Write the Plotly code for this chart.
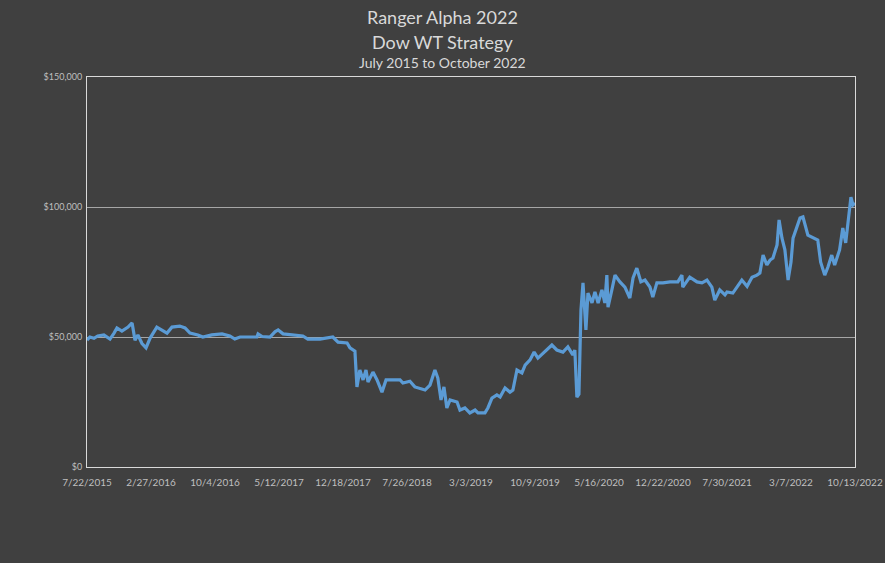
import plotly.graph_objects as go

# Data
dates = [
    "2015-07-22", "2015-08-01", "2015-08-15", "2015-08-28", "2015-09-18", "2015-10-09",
    "2015-10-23", "2015-11-02", "2015-11-19", "2015-12-10", "2015-12-24", "2016-01-03",
    "2016-01-13", "2016-01-27", "2016-02-10", "2016-02-24", "2016-03-18", "2016-04-04",
    "2016-04-22", "2016-05-09", "2016-06-05", "2016-06-23", "2016-07-10", "2016-08-06",
    "2016-08-23", "2016-09-23", "2016-10-28", "2016-11-24", "2016-12-11", "2016-12-29",
    "2017-02-25", "2017-03-01", "2017-03-15", "2017-04-11", "2017-04-28", "2017-05-09",
    "2017-05-26", "2017-08-02", "2017-08-19", "2017-09-30", "2017-11-13", "2017-12-01",
    "2018-01-01", "2018-01-11", "2018-01-28", "2018-02-04", "2018-02-14", "2018-02-25",
    "2018-03-07", "2018-03-14", "2018-03-31", "2018-04-14", "2018-05-01", "2018-05-15",
    "2018-07-02", "2018-07-12", "2018-08-05", "2018-08-22", "2018-09-26", "2018-10-13",
    "2018-10-30", "2018-11-09", "2018-11-20", "2018-11-30", "2018-12-10", "2018-12-21",
    "2019-01-14", "2019-01-24", "2019-02-10", "2019-02-27", "2019-03-17", "2019-03-27",
    "2019-04-20", "2019-04-30", "2019-05-14", "2019-05-31", "2019-06-11", "2019-06-28",
    "2019-07-15", "2019-07-25", "2019-08-08", "2019-08-25", "2019-09-05", "2019-09-22",
    "2019-10-06", "2019-10-19", "2019-11-12", "2019-12-06", "2019-12-23", "2020-01-13",
    "2020-01-30", "2020-02-16", "2020-02-23", "2020-03-01", "2020-03-08", "2020-03-15",
    "2020-03-22", "2020-04-01", "2020-04-08", "2020-04-22", "2020-05-02", "2020-05-13",
    "2020-05-26", "2020-06-05", "2020-06-12", "2020-06-16", "2020-06-29", "2020-07-10",
    "2020-07-27", "2020-08-13", "2020-08-30", "2020-09-10", "2020-09-23", "2020-10-07",
    "2020-10-21", "2020-11-07", "2020-11-17", "2020-12-01", "2020-12-22", "2021-01-15",
    "2021-02-11", "2021-02-25", "2021-02-28", "2021-03-24", "2021-04-18", "2021-05-05",
    "2021-05-22", "2021-06-08", "2021-06-18", "2021-07-05", "2021-07-23", "2021-07-30",
    "2021-08-19", "2021-09-19", "2021-10-07", "2021-10-24", "2021-11-10", "2021-11-20",
    "2021-12-01", "2021-12-14", "2021-12-25", "2022-01-04", "2022-01-18", "2022-01-25",
    "2022-02-04", "2022-02-14", "2022-02-25", "2022-03-07", "2022-03-14", "2022-03-27",
    "2022-04-07", "2022-04-17", "2022-04-27", "2022-05-04", "2022-06-07", "2022-06-17",
    "2022-07-01", "2022-07-12", "2022-07-25", "2022-08-04", "2022-08-21", "2022-09-01",
    "2022-09-11", "2022-09-18", "2022-09-29", "2022-10-06", "2022-10-13",
]
values = [
    48800, 50000, 49500, 50400, 50800, 49200,
    51500, 53500, 52300, 53800, 55400, 48800,
    50800, 47500, 45800, 49600, 53800, 52700,
    51500, 53800, 54200, 53500, 51500, 50800,
    50000, 50800, 51200, 50400, 49200, 50000,
    50000, 51200, 50200, 50000, 52000, 52700,
    51200, 50400, 49200, 49200, 50000, 48000,
    47700, 45800, 44600, 30800, 37300, 33500,
    37300, 32700, 36500, 33500, 28800, 33500,
    33500, 32300, 33000, 30800, 29600, 31500,
    37300, 34200, 25800, 30800, 22700, 25800,
    25000, 21900, 22700, 20800, 21900, 20800,
    20800, 22700, 26500, 27700, 26900, 30400,
    28800, 29600, 37300, 36200, 39200, 41200,
    44200, 41900, 44200, 46900, 45000, 44200,
    46200, 43100, 45000, 26900, 28000, 60400,
    70800, 52700, 66900, 63100, 67300, 63100,
    68100, 63100, 73800, 61500, 68000, 73800,
    71200, 69200, 65000, 72700, 76500, 71200,
    71900, 69200, 65400, 70800, 70800, 71200,
    71200, 73800, 69200, 73000, 71200, 70800,
    71900, 69200, 64200, 68100, 66200, 67300,
    66900, 71900, 69500, 73000, 73800, 74600,
    81500, 77700, 79600, 80400, 85400, 95000,
    88000, 83500, 71900, 78800, 88000, 92300,
    95800, 96200, 92300, 89200, 87300, 78800,
    73800, 76900, 81500, 77700, 83500, 91900,
    86200, 93800, 103800, 100800, 101500,
]

x_tick_dates = [
    "2015-07-22", "2016-02-27", "2016-10-04", "2017-05-12", "2017-12-18",
    "2018-07-26", "2019-03-03", "2019-10-09", "2020-05-16", "2020-12-22",
    "2021-07-30", "2022-03-07", "2022-10-13",
]
x_tick_labels = [
    "7/22/2015", "2/27/2016", "10/4/2016", "5/12/2017", "12/18/2017",
    "7/26/2018", "3/3/2019", "10/9/2019", "5/16/2020", "12/22/2020",
    "7/30/2021", "3/7/2022", "10/13/2022",
]
y_tick_values = [0, 50000, 100000, 150000]
y_tick_labels = ["$0", "$50,000", "$100,000", "$150,000"]

title_lines = ["Ranger Alpha 2022", "Dow WT Strategy", "July 2015 to October 2022"]

bg = "#404040"
font_family = "Lato, 'Open Sans', sans-serif"

fig = go.Figure()
fig.add_trace(go.Scatter(
    x=dates, y=values, mode="lines",
    line=dict(color="#5B9BD5", width=3.2),
    showlegend=False,
))

fig.update_layout(
    width=885, height=563,
    paper_bgcolor=bg, plot_bgcolor=bg,
    margin=dict(l=87, r=30, t=77, b=96, autoexpand=False),
    font=dict(family=font_family, color="#bfbfbf"),
    xaxis=dict(
        type="date", automargin=False,
        range=[x_tick_dates[0], x_tick_dates[-1]],
        tickmode="array", tickvals=x_tick_dates, ticktext=x_tick_labels,
        tickfont=dict(size=10, color="#bfbfbf"),
        showgrid=False, zeroline=False,
        showline=True, linecolor="#d9d9d9", linewidth=1, mirror=True,
        ticks="", tickangle=0, ticklabelstandoff=6,
    ),
    yaxis=dict(
        range=[0, 150000], automargin=False,
        tickmode="array", tickvals=y_tick_values, ticktext=y_tick_labels,
        tickfont=dict(size=9, color="#bfbfbf"),
        showgrid=True, gridcolor="#a6a6a6", gridwidth=1,
        zeroline=False,
        showline=True, linecolor="#d9d9d9", linewidth=1, mirror=True,
        ticks="", ticklabelstandoff=2,
    ),
)

title_y = [17, 42, 63]
title_sizes = [18, 18, 14]
for txt, yy, sz in zip(title_lines, title_y, title_sizes):
    fig.add_annotation(
        text=txt, xref="paper", yref="paper",
        x=(442.5 - 87) / (885 - 87 - 30), y=1 + (77 - yy) / (563 - 77 - 96),
        showarrow=False, xanchor="center", yanchor="middle",
        font=dict(size=sz, color="#d9d9d9", family=font_family),
    )

fig.write_html(
    "out.html",
    config={"displayModeBar": False},
    post_script="document.body.style.margin='0';document.body.style.background='#404040';document.body.style.overflow='hidden';",
)
